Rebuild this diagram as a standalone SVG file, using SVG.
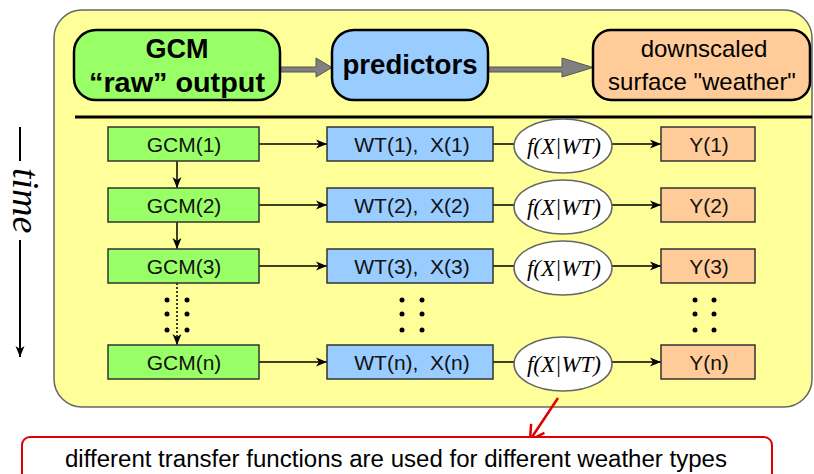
<svg xmlns="http://www.w3.org/2000/svg" width="814" height="474" viewBox="0 0 814 474">
<defs>
<marker id="ah" markerUnits="userSpaceOnUse" markerWidth="12" markerHeight="10" refX="11" refY="5" orient="auto">
<path d="M0,0.5 L11,5 L0,9.5 L3,5 Z" fill="#000"/>
</marker>
<marker id="ahred" markerUnits="userSpaceOnUse" markerWidth="20" markerHeight="20" refX="17" refY="10" orient="auto">
<path d="M3,2 L17,10 L3,18" fill="none" stroke="#E00000" stroke-width="2.5"/>
</marker>
</defs>
<style>
.top{stroke:#000;stroke-width:2.5}
.bx{stroke:#333;stroke-width:1.5}
.g{fill:#99FF66}.b{fill:#99CCFF}.o{fill:#FFCC99}
.bt{font-family:"Liberation Sans",Arial,sans-serif;font-weight:bold;font-size:27px;text-anchor:middle;fill:#000}
.nt{font-family:"Liberation Sans",Arial,sans-serif;font-size:24px;text-anchor:middle;fill:#000}
.rt{font-family:"Liberation Sans",Arial,sans-serif;font-size:21px;text-anchor:middle;fill:#111}
.ft{font-family:"Liberation Serif","Times New Roman",serif;font-style:italic;font-size:23px;text-anchor:middle;fill:#000}
.ln{stroke:#000;stroke-width:1.5;fill:none}
.el{fill:#fff;stroke:#666;stroke-width:1.5}
</style>
<rect x="54" y="10" width="758" height="397" rx="28" fill="#FFFF99" stroke="#666" stroke-width="1.5"/>
<line x1="75" y1="117" x2="812" y2="117" stroke="#000" stroke-width="3"/>

<g id="time">
<line x1="20" y1="127" x2="20" y2="161" stroke="#000" stroke-width="2"/>
<text x="0" y="0" transform="translate(13,168) rotate(90)" font-family="'Liberation Serif','Times New Roman',serif" font-style="italic" font-size="38" fill="#000">time</text>
<line x1="20" y1="240" x2="20" y2="357" stroke="#000" stroke-width="2" marker-end="url(#ah)"/>
</g>

<g id="connectors">
<path d="M280,67 H316 V58 L332,67.5 L316,77 V72 H280 Z" fill="#808080" stroke="#555" stroke-width="1"/>
<path d="M488,67 H562 V58 L593,67.5 L562,77 V72 H488 Z" fill="#808080" stroke="#555" stroke-width="1"/>
<line class="ln" x1="259" y1="144" x2="327" y2="144" marker-end="url(#ah)"/>
<line class="ln" x1="259" y1="205" x2="327" y2="205" marker-end="url(#ah)"/>
<line class="ln" x1="259" y1="266" x2="327" y2="266" marker-end="url(#ah)"/>
<line class="ln" x1="259" y1="362" x2="327" y2="362" marker-end="url(#ah)"/>
<line class="ln" x1="493" y1="144" x2="515" y2="144"/>
<line class="ln" x1="493" y1="205" x2="515" y2="205"/>
<line class="ln" x1="493" y1="266" x2="515" y2="266"/>
<line class="ln" x1="493" y1="362" x2="515" y2="362"/>
<line class="ln" x1="612" y1="144" x2="661" y2="144" marker-end="url(#ah)"/>
<line class="ln" x1="612" y1="205" x2="661" y2="205" marker-end="url(#ah)"/>
<line class="ln" x1="612" y1="266" x2="661" y2="266" marker-end="url(#ah)"/>
<line class="ln" x1="612" y1="362" x2="661" y2="362" marker-end="url(#ah)"/>
<line class="ln" x1="177" y1="161" x2="177" y2="188" marker-end="url(#ah)"/>
<line class="ln" x1="177" y1="222" x2="177" y2="249" marker-end="url(#ah)"/>
<line class="ln" x1="177" y1="283" x2="177" y2="345" stroke-dasharray="2,2" marker-end="url(#ah)"/>
<line x1="558" y1="398" x2="530" y2="440" stroke="#E00000" stroke-width="2.5" marker-end="url(#ahred)"/>
</g>

<g id="gcm-raw"><rect class="top g" x="74" y="30" width="206" height="70" rx="22"/><text class="bt" x="177" y="58">GCM</text><text class="bt" x="177" y="92" textLength="176" lengthAdjust="spacingAndGlyphs">“raw” output</text></g>
<g id="predictors"><rect class="top b" x="332" y="30" width="156" height="70" rx="22"/><text class="bt" x="410" y="74" textLength="135" lengthAdjust="spacingAndGlyphs">predictors</text></g>
<g id="downscaled"><rect class="top o" x="593" y="30" width="217" height="70" rx="18"/><text class="nt" x="704" y="57">downscaled</text><text class="nt" x="702" y="90">surface "weather"</text></g>

<g id="gcm1"><rect class="bx g" x="108" y="127" width="151" height="34"/><text class="rt" x="184" y="152">GCM(1)</text></g>
<g id="gcm2"><rect class="bx g" x="108" y="188" width="151" height="34"/><text class="rt" x="184" y="213">GCM(2)</text></g>
<g id="gcm3"><rect class="bx g" x="108" y="249" width="151" height="34"/><text class="rt" x="184" y="274">GCM(3)</text></g>
<g id="gcmn"><rect class="bx g" x="108" y="345" width="151" height="34"/><text class="rt" x="184" y="370">GCM(n)</text></g>

<g id="wt1"><rect class="bx b" x="327" y="127" width="166" height="34"/><text class="rt" x="412" y="152" xml:space="preserve">WT(1),  X(1)</text></g>
<g id="wt2"><rect class="bx b" x="327" y="188" width="166" height="34"/><text class="rt" x="412" y="213" xml:space="preserve">WT(2),  X(2)</text></g>
<g id="wt3"><rect class="bx b" x="327" y="249" width="166" height="34"/><text class="rt" x="412" y="274" xml:space="preserve">WT(3),  X(3)</text></g>
<g id="wtn"><rect class="bx b" x="327" y="345" width="166" height="34"/><text class="rt" x="412" y="370" xml:space="preserve">WT(n),  X(n)</text></g>

<g id="f1"><ellipse class="el" cx="563" cy="146" rx="49" ry="27"/><text class="ft" x="564" y="154">f(X|WT)</text></g>
<g id="f2"><ellipse class="el" cx="563" cy="207" rx="49" ry="27"/><text class="ft" x="564" y="215">f(X|WT)</text></g>
<g id="f3"><ellipse class="el" cx="563" cy="268" rx="49" ry="27"/><text class="ft" x="564" y="276">f(X|WT)</text></g>
<g id="fn"><ellipse class="el" cx="563" cy="364" rx="49" ry="27"/><text class="ft" x="564" y="372">f(X|WT)</text></g>

<g id="y1"><rect class="bx o" x="661" y="127" width="94" height="34"/><text class="rt" x="709" y="152">Y(1)</text></g>
<g id="y2"><rect class="bx o" x="661" y="188" width="94" height="34"/><text class="rt" x="709" y="213">Y(2)</text></g>
<g id="y3"><rect class="bx o" x="661" y="249" width="94" height="34"/><text class="rt" x="709" y="274">Y(3)</text></g>
<g id="yn"><rect class="bx o" x="661" y="345" width="94" height="34"/><text class="rt" x="709" y="370">Y(n)</text></g>

<g id="dots" fill="#000">
<circle cx="167" cy="300" r="2.5"/><circle cx="187" cy="300" r="2.5"/>
<circle cx="167" cy="314" r="2.5"/><circle cx="187" cy="314" r="2.5"/>
<circle cx="167" cy="330" r="2.5"/><circle cx="187" cy="330" r="2.5"/>
<circle cx="402" cy="300" r="2.5"/><circle cx="422" cy="300" r="2.5"/>
<circle cx="402" cy="314" r="2.5"/><circle cx="422" cy="314" r="2.5"/>
<circle cx="402" cy="330" r="2.5"/><circle cx="422" cy="330" r="2.5"/>
<circle cx="695" cy="300" r="2.5"/><circle cx="714" cy="300" r="2.5"/>
<circle cx="695" cy="314" r="2.5"/><circle cx="714" cy="314" r="2.5"/>
<circle cx="695" cy="330" r="2.5"/><circle cx="714" cy="330" r="2.5"/>
</g>

<g id="note"><rect x="22" y="437" width="750" height="45" rx="8" fill="#fff" stroke="#E00000" stroke-width="2"/><text x="396" y="467" font-family="'Liberation Sans',Arial,sans-serif" font-size="23" text-anchor="middle" fill="#000" textLength="662" lengthAdjust="spacingAndGlyphs">different transfer functions are used for different weather types</text></g>
</svg>
